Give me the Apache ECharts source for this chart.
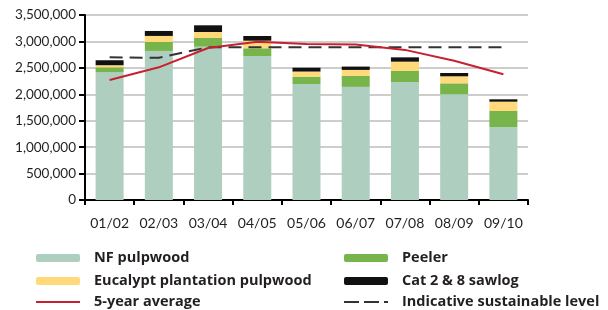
<!DOCTYPE html>
<html>
<head>
<meta charset="utf-8">
<script src="https://cdn.jsdelivr.net/npm/echarts@6/dist/echarts.min.js"></script>
<style>
html,body{margin:0;padding:0;background:#fff;}
#main{width:608px;height:310px;}
</style>
</head>
<body>
<div id="main"></div>
<script>
var categories = ['01/02','02/03','03/04','04/05','05/06','06/07','07/08','08/09','09/10'];
var nfPulpwood = [2420000, 2820000, 2900000, 2724000, 2195000, 2140000, 2232000, 2000000, 1381000];
var peeler = [90000, 170000, 165000, 146000, 138000, 208000, 209000, 207000, 303000];
var eucalypt = [40000, 114000, 113000, 144000, 97000, 113000, 176000, 133000, 176000];
var sawlog = [94000, 94000, 127000, 89000, 73000, 63000, 82000, 63000, 45000];
var fiveYearAvg = [2270000, 2510000, 2875000, 2995000, 2950000, 2940000, 2840000, 2635000, 2378000];
var sustainable = [2700000, 2690000, 2890000, 2890000, 2890000, 2890000, 2890000, 2890000, 2890000];
var yTicks = [0, 500000, 1000000, 1500000, 2000000, 2500000, 3000000, 3500000];

var FONT = 'Lato';
var LEGEND_FONT = 'Open Sans';
var chart = echarts.init(document.getElementById('main'), null, {renderer: 'canvas'});

function legendAt(name, left, centerY, extra) {
  var l = {
    data: [name],
    left: left,
    top: centerY - 9,
    padding: 0,
    itemWidth: 44,
    itemHeight: 8,
    selectedMode: false,
    symbolKeepAspect: false,
    textStyle: {fontFamily: LEGEND_FONT, fontWeight: 'bold', fontSize: 14.5, color: '#231f20', padding: [0,0,0,9], lineHeight: 18}
  };
  if (extra) for (var k in extra) l[k] = extra[k];
  return l;
}

var option = {
  animation: false,
  backgroundColor: '#fff',
  grid: {left: 85, right: 80, top: 15, bottom: 110, containLabel: false},
  legend: [
    legendAt('NF pulpwood', 36, 258),
    legendAt('Eucalypt plantation pulpwood', 36, 281),
    legendAt('5-year average', 36, 302, {icon: 'rect', itemHeight: 2}),
    legendAt('Peeler', 344, 258),
    legendAt('Cat 2 & 8 sawlog', 344, 281),
    legendAt('Indicative sustainable level', 344, 302, {icon: 'path://M0,0h15v2h-15z M20,0h15v2h-15z M40,0h4v2h-4z', itemHeight: 2})
  ],
  xAxis: {
    type: 'category',
    data: categories,
    boundaryGap: true,
    axisLine: {lineStyle: {color: '#000', width: 2}},
    axisTick: {show: true, length: 5, interval: 0, lineStyle: {color: '#000', width: 2}},
    axisLabel: {fontFamily: FONT, fontSize: 14, color: '#231f20', margin: 16, interval: 0}
  },
  yAxis: {
    type: 'value',
    min: 0, max: 3500000, interval: 500000,
    axisLine: {show: true, lineStyle: {color: '#000', width: 2}},
    axisTick: {show: true, length: 6, lineStyle: {color: '#000', width: 2}},
    splitLine: {lineStyle: {color: '#bdbdbd', width: 1.5}},
    axisLabel: {
      fontFamily: FONT, fontSize: 13.5, color: '#231f20', margin: 9,
      formatter: function (v) { return v.toLocaleString('en-US'); }
    }
  },
  series: [
    {name: 'NF pulpwood', type: 'bar', stack: 'v', data: nfPulpwood, barWidth: 28, itemStyle: {color: '#aecfbf'}},
    {name: 'Peeler', type: 'bar', stack: 'v', data: peeler, barWidth: 28, itemStyle: {color: '#77b44a'}},
    {name: 'Eucalypt plantation pulpwood', type: 'bar', stack: 'v', data: eucalypt, barWidth: 28, itemStyle: {color: '#ffd97a'}},
    {name: 'Cat 2 & 8 sawlog', type: 'bar', stack: 'v', data: sawlog, barWidth: 28, itemStyle: {color: '#111111'}},
    {name: '5-year average', type: 'line', data: fiveYearAvg, symbol: 'none', lineStyle: {color: '#c8202f', width: 2}, itemStyle: {color: '#c8202f'}, z: 5},
    {name: 'Indicative sustainable level', type: 'line', data: sustainable, symbol: 'none', lineStyle: {color: '#333333', width: 2, type: [13, 7]}, itemStyle: {color: '#333333'}, z: 4}
  ]
};
chart.setOption(option);
</script>
</body>
</html>
